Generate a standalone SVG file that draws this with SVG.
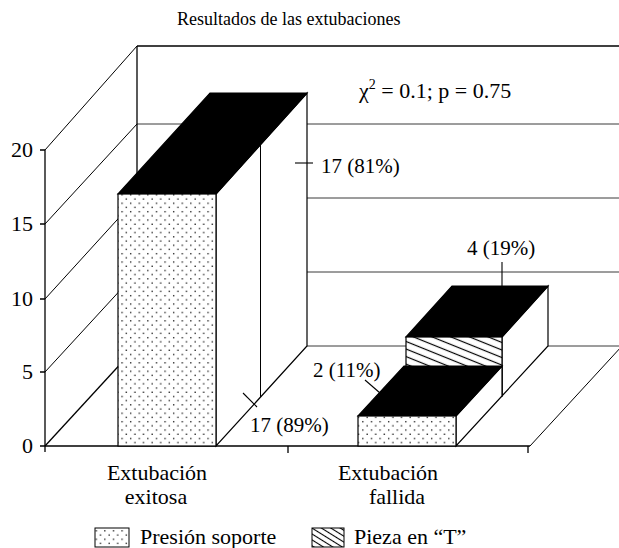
<svg xmlns="http://www.w3.org/2000/svg" width="619" height="548" viewBox="0 0 619 548" font-family="'Liberation Serif', 'Times New Roman', serif">
<style>
text{font-family:'Liberation Serif','Times New Roman',serif;fill:#000}
.t{font-size:21px}
.c{font-size:22px}
.ttl{font-size:18px}
.ax{stroke:#000;stroke-width:1.3;fill:none}
.gr{stroke:#3a3a3a;stroke-width:1;fill:none}
.dg{stroke:#000;stroke-width:1;fill:none}
.bar{stroke:#000;stroke-width:1.2}
.ld{stroke:#000;stroke-width:1.1;fill:none}
</style>
<defs>
<pattern id="dots" width="8.6" height="8.4" patternUnits="userSpaceOnUse">
<rect width="8.6" height="8.4" fill="#fff"/>
<rect x="1" y="1" width="1.3" height="1.3" fill="#111"/>
<rect x="5.3" y="5.2" width="1.3" height="1.3" fill="#111"/>
</pattern>
<pattern id="hatch" width="8" height="7" patternUnits="userSpaceOnUse" patternTransform="rotate(22)">
<rect width="8" height="7" fill="#fff"/>
<line x1="0" y1="3.5" x2="8" y2="3.5" stroke="#000" stroke-width="1.2"/>
</pattern>
<pattern id="hatchL" width="8" height="5" patternUnits="userSpaceOnUse" patternTransform="rotate(32)">
<rect width="8" height="5" fill="#fff"/>
<line x1="0" y1="2.5" x2="8" y2="2.5" stroke="#000" stroke-width="1.1"/>
</pattern>
</defs>
<rect width="619" height="548" fill="#fff"/>
<text id="title" class="ttl" x="177" y="25">Resultados de las extubaciones</text>
<g id="walls">
<line class="ax" x1="137" y1="46" x2="622" y2="46"/>
<line class="gr" x1="137" y1="124" x2="622" y2="124"/>
<line class="gr" x1="137" y1="198" x2="622" y2="198"/>
<line class="gr" x1="137" y1="272" x2="622" y2="272"/>
<line class="ax" x1="137" y1="46" x2="137" y2="346"/>
<line class="ax" x1="45" y1="150" x2="45" y2="446"/>
<line class="dg" x1="45" y1="150" x2="137" y2="46"/>
<line class="dg" x1="45" y1="224" x2="137" y2="124"/>
<line class="dg" x1="45" y1="299" x2="137" y2="198"/>
<line class="dg" x1="45" y1="372" x2="137" y2="272"/>
<line class="ax" x1="45" y1="446" x2="137" y2="346"/>
<line class="gr" x1="137" y1="346" x2="622" y2="346"/>
<line class="ax" x1="45" y1="446" x2="530" y2="446"/>
<line class="dg" x1="530" y1="446" x2="622" y2="346"/>
<path class="ax" d="M40 150H45M40 224H45M40 299H45M40 372H45M40 446H45M45 446V452M288 446V453M528 446V453"/>
</g>
<g id="yaxis" class="c" text-anchor="end">
<text x="33" y="157">20</text>
<text x="33" y="231">15</text>
<text x="33" y="306">10</text>
<text x="33" y="379">5</text>
<text x="33" y="453">0</text>
</g>
<g id="bar-exitosa">
<polygon class="bar" fill="#fff" points="216,194 307,93 307,346 216,446"/>
<line class="dg" x1="260.5" y1="145" x2="260.5" y2="397"/>
<polygon class="bar" fill="#000" points="118,194 216,194 307,93 210,93"/>
<rect class="bar" x="118" y="194" width="98" height="252" fill="url(#dots)"/>
</g>
<g id="bar-fallida-pieza">
<polygon class="bar" fill="#fff" points="502,337 548,286 548,346 502,396"/>
<polygon class="bar" fill="#000" points="406,337 502,337 548,286 452,286"/>
<rect class="bar" x="406" y="337" width="96" height="59" fill="url(#hatch)"/>
</g>
<g id="bar-fallida-presion">
<polygon class="bar" fill="#fff" points="456,416 502,366 502,396 456,446"/>
<polygon class="bar" fill="#000" points="358,416 456,416 502,366 404,366"/>
<rect class="bar" x="358" y="416" width="98" height="30" fill="url(#dots)"/>
</g>
<g id="connectors">
<line class="ld" x1="295" y1="163" x2="313" y2="163"/>
<line class="ld" x1="243" y1="393" x2="257" y2="407"/>
<line class="ld" x1="502" y1="262" x2="502" y2="286"/>
<line class="ld" x1="365" y1="380" x2="380" y2="393"/>
</g>
<g id="labels" class="t">
<text class="c" x="359" y="98">χ<tspan font-size="14" dy="-9">2</tspan><tspan dy="9"> = 0.1; p = 0.75</tspan></text>
<text x="321" y="173">17 (81%)</text>
<text x="250" y="432">17 (89%)</text>
<text x="467" y="255">4 (19%)</text>
<text x="313" y="377">2 (11%)</text>
</g>
<g id="xaxis" class="c" text-anchor="middle">
<text x="157" y="480">Extubación</text>
<text x="156" y="504">exitosa</text>
<text x="388" y="480">Extubación</text>
<text x="397" y="504">fallida</text>
</g>
<g id="legend">
<g id="legend-presion">
<rect x="95" y="528" width="34" height="19" fill="url(#dots)" stroke="#000" stroke-width="1"/>
<text class="c" x="140" y="544">Presión soporte</text>
</g>
<g id="legend-pieza">
<rect x="312" y="528" width="32" height="19" fill="url(#hatchL)" stroke="#000" stroke-width="1"/>
<text class="c" x="354" y="544">Pieza en “T”</text>
</g>
</g>
</svg>
